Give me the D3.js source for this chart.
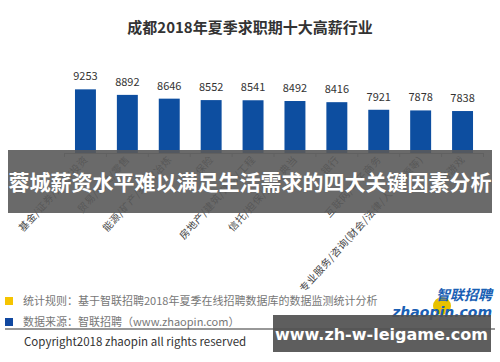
<!DOCTYPE html>
<html><head><meta charset="utf-8">
<script src="https://cdn.jsdelivr.net/npm/d3@7/dist/d3.min.js"></script>
<style>body{margin:0;background:#fff}svg{display:block}</style>
</head><body>
<script>
const title = "成都2018年夏季求职期十大高薪行业";
const categories = ["基金/证券/期货/投资","贸易/批发/零售","能源/矿产/采掘/冶炼","保险","房地产/建筑/建材/工程","信托/担保/拍卖/典当","银行","互联网/电子商务","专业服务/咨询(财会/法律/人力资源等)","网络游戏"];
const salaries = [9253,8892,8646,8552,8541,8492,8416,7921,7878,7838];
const overlayText = "蓉城薪资水平难以满足生活需求的四大关键因素分析";
const legendItems = [
  {color:"#f5c400", text:"统计规则：基于智联招聘2018年夏季在线招聘数据库的数据监测统计分析"},
  {color:"#1148a0", text:"数据来源：智联招聘（www.zhaopin.com）"}
];
const copyright = "Copyright2018 zhaopin all rights reserved";
const watermark = "www.zh-w-leigame.com";

const W=500,H=362;
const svg=d3.select("body").append("svg").attr("width",W).attr("height",H);
const font="'Noto Sans CJK SC','Microsoft YaHei',sans-serif";

svg.append("text").attr("x",250).attr("y",33).attr("text-anchor","middle")
  .attr("font-family",font).attr("font-weight","bold").attr("font-size",15).attr("fill","#333").text(title);

const x=d3.scaleBand().domain(categories).range([64.5,483.5]).paddingInner(0.5).paddingOuter(0.25);
const y=d3.scaleLinear().domain([5100,10000]).range([153,77.9]);

// axis
const ax=svg.append("g").attr("transform","translate(0,153)")
  .call(d3.axisBottom(x).tickSize(0).tickFormat(""));
ax.select(".domain").attr("stroke","#999");
const step=x.step();
const gap=(step-x.bandwidth())/2;
svg.append("g").selectAll("line").data(categories.map(c=>x(c)-gap).concat([x(categories[9])+x.bandwidth()+gap]))
  .join("line").attr("x1",d=>d).attr("x2",d=>d).attr("y1",153).attr("y2",157).attr("stroke","#999");

svg.append("g").selectAll("rect").data(salaries).join("rect")
  .attr("x",(d,i)=>x(categories[i])).attr("width",x.bandwidth())
  .attr("y",d=>y(d)).attr("height",d=>153-y(d)).attr("fill","#0d4ea0");

svg.append("g").selectAll("text").data(salaries).join("text")
  .attr("x",(d,i)=>x(categories[i])+x.bandwidth()/2).attr("y",d=>y(d)-9)
  .attr("text-anchor","middle").attr("font-family",font).attr("font-size",11).attr("fill","#333").text(d=>d);

// category labels rotated
svg.append("g").selectAll("text").data(categories).join("text")
  .attr("transform",c=>`translate(${x(c)+x.bandwidth()/2+3},160) rotate(-48)`)
  .attr("text-anchor","end").attr("font-family",font).attr("font-size",10).attr("letter-spacing",0.5)
  .attr("fill","#444").text(c=>c);

// overlay band
svg.append("rect").attr("x",8).attr("y",150).attr("width",484).attr("height",63).attr("fill","rgb(90,90,90)").attr("opacity",0.9);
svg.append("text").attr("x",250).attr("y",190).attr("text-anchor","middle").attr("font-family",font)
  .attr("font-weight","bold").attr("font-size",21).attr("fill","#fff").text(overlayText);

// legend
legendItems.forEach((d,i)=>{
  const yy=297+i*21;
  svg.append("rect").attr("x",5).attr("y",yy).attr("width",8).attr("height",8).attr("fill",d.color);
  svg.append("text").attr("x",23).attr("y",yy+8).attr("font-family",font).attr("font-size",11).attr("fill","#777").text(d.text);
});
svg.append("line").attr("x1",5).attr("x2",495).attr("y1",329).attr("y2",329).attr("stroke","#333").attr("stroke-width",1.2);
svg.append("text").attr("x",24).attr("y",346).attr("font-family",font).attr("font-size",11.5).attr("fill","#333").text(copyright);

// logo
svg.append("circle").attr("cx",442).attr("cy",306).attr("r",9).attr("fill","#e8c200");
svg.append("text").attr("x",492).attr("y",300).attr("text-anchor","end").attr("font-family",font).attr("font-weight","bold")
  .attr("font-style","italic").attr("font-size",14).attr("fill","#1a5fb4").text("智联招聘");
svg.append("text").attr("x",492).attr("y",317).attr("text-anchor","end").attr("font-family","'DejaVu Sans',sans-serif").attr("font-weight","bold")
  .attr("font-style","italic").attr("font-size",14).attr("fill","#1a5fb4").text("zhaopin.com");

// watermark
svg.append("rect").attr("x",273).attr("y",315).attr("width",218).attr("height",37).attr("fill","rgb(80,80,80)").attr("opacity",0.92);
svg.append("text").attr("x",275).attr("y",340).attr("font-family","'DejaVu Sans',sans-serif")
  .attr("font-weight","bold").attr("font-size",16).attr("fill","#fff").text(watermark);
</script>
</body></html>
